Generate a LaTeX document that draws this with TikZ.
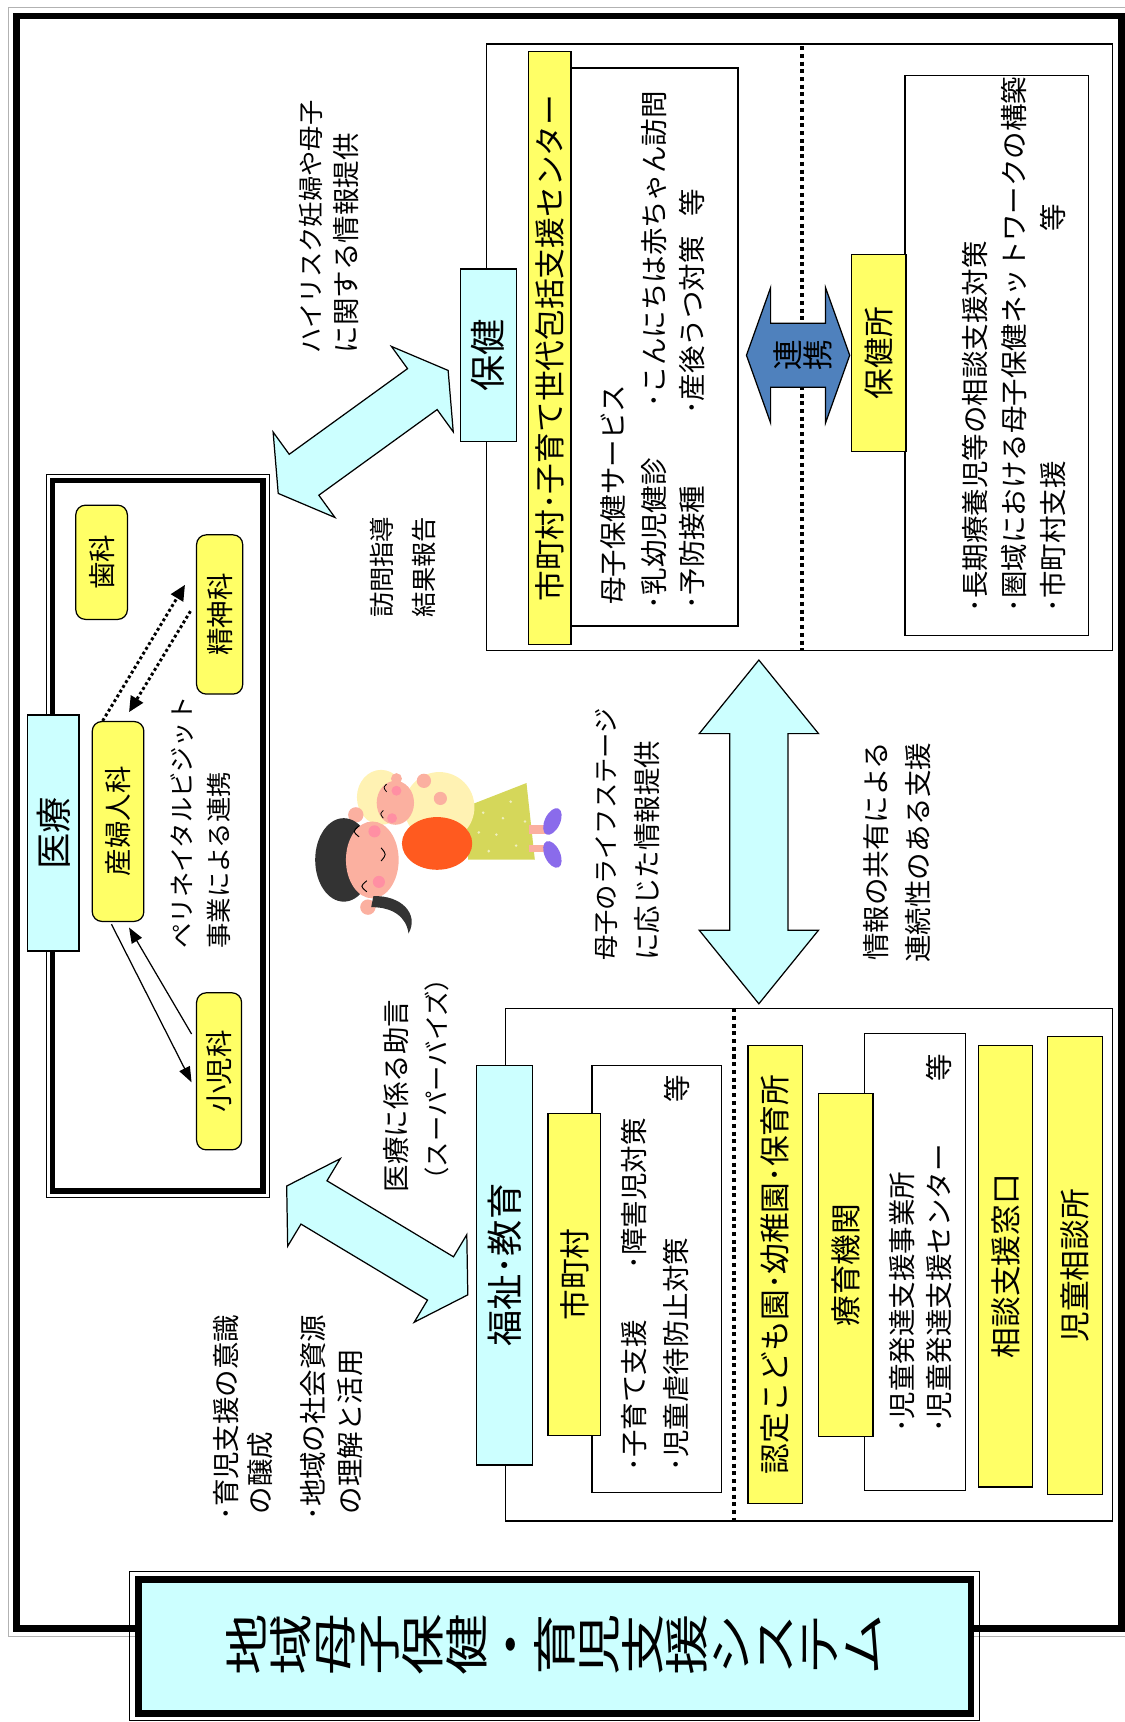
\documentclass[tikz,border=0pt]{standalone}
\usepackage{graphicx}
\usepackage{fontspec}
\setmainfont{Noto Sans CJK JP}
\usetikzlibrary{fit,calc,arrows.meta}

\definecolor{paleyellow}{HTML}{FFFF66}
\definecolor{palecyan}{HTML}{CCFFFF}
\definecolor{linkblue}{HTML}{4F81BD}
\definecolor{hairgray}{HTML}{333333}
\definecolor{skin}{HTML}{FBB0A0}
\definecolor{cheek}{HTML}{FF8FA3}
\definecolor{cream}{HTML}{FFF2B3}
\definecolor{apron}{HTML}{FF5A1F}
\definecolor{skirt}{HTML}{D5D75A}
\definecolor{shoe}{HTML}{8A6BEB}

% glyphs set one after another, each turned on its side
\newcommand\tatechars[1]{\ifx\relax#1\else\rotatebox{90}{\rule[-0.12em]{0pt}{1em}#1}\expandafter\tatechars\fi}

% double block arrow: centre, angle, half length, head length, half head width, half shaft width
\newcommand{\dblarrow}[7][bigarrow]{%
  \begin{scope}[shift={#2},rotate=#3]
    \draw[#1] (-#4,0) -- (-#4+#5,#6) -- (-#4+#5,#7) -- (#4-#5,#7) -- (#4-#5,#6)
      -- (#4,0) -- (#4-#5,-#6) -- (#4-#5,-#7) -- (-#4+#5,-#7) -- (-#4+#5,-#6) -- cycle;
  \end{scope}}

\begin{document}
\begin{tikzpicture}[x=0.25mm,y=-0.25mm,
  box/.style={draw,line width=0.8pt,inner sep=0pt},
  ybox/.style={box,fill=paleyellow},
  cbox/.style={box,fill=palecyan},
  wbox/.style={box,fill=white},
  dept/.style={ybox,rounded corners=2.2mm},
  vt/.style={rotate=90,anchor=west,inner sep=0pt},
  vc/.style={rotate=90,inner sep=0pt},
  fbig/.style={font=\fontsize{23.5pt}{28pt}\selectfont},
  fbar/.style={font=\fontsize{19.9pt}{24pt}\selectfont},
  fbody/.style={font=\fontsize{17.8pt}{21pt}\selectfont},
  fsmall/.style={font=\fontsize{16.4pt}{20pt}\selectfont},
  divider/.style={line width=2.6pt,dash pattern=on 2.6pt off 2.4pt},
  bigarrow/.style={draw,line width=0.8pt,fill=palecyan,line join=miter},
  linkarrow/.style={draw,line width=0.8pt,fill=linkblue,line join=miter},
  dotlink/.style={line width=1.9pt,dash pattern=on 1.9pt off 1.7pt,-{Triangle[length=10pt,width=9pt]}},
  link/.style={line width=0.8pt,-{Triangle[length=10pt,width=7.5pt]}},
]
\useasboundingbox (0,0) rectangle (1024,1568);

\draw[gray!60,line width=0.5pt] (8,7) rectangle (1030,1490);
\draw[line width=4.3pt] (15,14.5) rectangle (1021,1483);

% hoken
\node[wbox,fit={(443,40) (1013,592)}] (hoken) {};
\draw[divider] (730,42) -- (730,592);
\node[wbox,fit={(520,62) (672,570)}] (svc) {};
\node[ybox,fit={(481,47) (520,587)}] (sctr) {};
\node[vc,fbar] (sctr-t) at (sctr) {市町村･子育て世代包括支援センター};
\node[cbox,fit={(419,245) (470,402)}] (hk) {};
\node[vc,fbig] (hk-t) at (hk) {保健};
\node[vt,fbody] (svc-1) at (558,551) {母子保健サービス};
\node[vt,fbody] (svc-2) at (596,555) {･乳幼児健診};
\node[vt,fbody] (svc-3) at (596,371) {･こんにちは赤ちゃん訪問};
\node[vt,fbody] (svc-4) at (630,555) {･予防接種};
\node[vt,fbody] (svc-5) at (630,378) {･産後うつ対策};
\node[vc,fbody] (svc-6) at (630,185) {等};
\node[wbox,fit={(824,69) (991,579)}] (pref) {};
\node[ybox,fit={(775,232) (825,411)}] (hc) {};
\node[vc,fbar] (hc-t) at (hc) {保健所};
\node[vt,fbody] (pref-1) at (888,558) {･長期療養児等の相談支援対策};
\node[vt,fbody] (pref-2) at (923,558) {･圏域における母子保健ネットワークの構築};
\node[vt,fbody] (pref-3) at (959,558) {･市町村支援};
\node[vc,fbody] (pref-4) at (959,198) {等};
\dblarrow[linkarrow]{(726.7,323.5)}{0}{47}{22}{61.6}{29.2}
\node[fbar,inner sep=0pt] (renkei) at (731,323) {\tatechars 連携\relax};

% iryo
\draw[line width=0.5pt] (42,432) rectangle (245,1090);
\node[draw,line width=3.4pt,inner sep=0pt,fit={(47.5,437.5) (239.5,1084.5)}] (iryo) {};
\node[cbox,fit={(25,651) (72,866)}] (ir) {};
\node[vc,fbig] (ir-t) at (ir) {医療};
\node[dept,fit={(69,460) (116,564)}] (dent) {};
\node[vc,fbody] (dent-t) at (dent) {歯科};
\node[dept,fit={(179,487) (221,632)}] (psych) {};
\node[vc,fbody] (psych-t) at (psych) {精神科};
\node[dept,fit={(84,657) (131,839)}] (obgyn) {};
\node[vc,fbody] (obgyn-t) at (obgyn) {産婦人科};
\node[dept,fit={(179,904) (220,1047)}] (peds) {};
\node[vc,fbody] (peds-t) at (peds) {小児科};
\draw[dotlink] ($(obgyn.north west)+(10,0)$) -- ($(psych.west)+(-10,-27)$);
\draw[dotlink] ($(psych.west)+(-5,-3)$) -- ($(obgyn.north)+(10,-8)$);
\draw[link] ($(obgyn.south)+(-6,2)$) -- ($(peds.west)+(-4,10)$);
\draw[link] ($(peds.west)+(-4,-34)$) -- ($(obgyn.south)+(10,5)$);
\node[vt,fsmall] (peri-1) at (166,864) {ペリネイタルビジット};
\node[vt,fsmall] (peri-2) at (199,864) {事業による連携};

% arrows between the fields
\dblarrow{(330.7,393.3)}{35.9}{95.5}{29}{48}{23}
\dblarrow{(343.5,1129.5)}{-31}{96.2}{29}{46.5}{23}
\dblarrow{(691,757.5)}{90}{156.5}{67}{54.3}{26.5}

\node[vt,fsmall] (note-1) at (283,322) {ハイリスク妊婦や母子};
\node[vt,fbody] (note-2) at (315,322) {に関する情報提供};
\node[vt,fsmall] (note-3) at (348,563) {訪問指導};
\node[vt,fsmall] (note-4) at (386,563) {結果報告};
\node[vt,fsmall] (note-5) at (552,875) {母子のライフステージ};
\node[vt,fbody] (note-6) at (589,875) {に応じた情報提供};
\node[vt,fbody] (note-7) at (798,875) {情報の共有による};
\node[vt,fbody] (note-8) at (836,877) {連続性のある支援};
\node[vt,fbody] (note-9) at (361,1086) {医療に係る助言};
\node[vt,fsmall] (note-10) at (398,1086) {（スーパーバイズ）};
\node[vt,fbody] (note-11) at (206,1385) {･育児支援の意識};
\node[vt,fbody] (note-12) at (237,1379) {の醸成};
\node[vt,fbody] (note-13) at (285,1385) {･地域の社会資源};
\node[vt,fbody] (note-14) at (319,1379) {の理解と活用};

% mother and baby
\fill[skirt] (424.8,734.3) -- (479.4,713) -- (487,782.8) -- (426.3,782.8) -- cycle;
\foreach \p in {(440,740),(452,760),(465,730),(470,770),(445,775),(478,748),(458,745),(436,758)}
  \fill[skirt!40!white] \p circle (1.3);
\fill[skin] (482,751) rectangle (497,759);
\fill[skin] (482,769) rectangle (497,776);
\fill[shoe,rotate around={-25:(503,748)}] (503,748) ellipse (7 and 13);
\fill[shoe,rotate around={25:(503,778)}] (503,778) ellipse (7 and 13);
\fill[cream] (400,735) ellipse (32 and 32);
\fill[apron] (398,768) ellipse (32 and 24);
\fill[cream] (347,726) ellipse (22 and 25);
\fill[skin] (360,731) ellipse (17 and 20);
\fill[skin] (361,709) circle (5);
\fill[cheek] (361,720) circle (4.5);
\fill[cheek] (357,745) circle (4.5);
\fill[skin] (386,711) circle (6.5);
\fill[skin] (401,727) circle (6);
\draw[line width=0.5pt] (352,714) .. controls (349,717) .. (352,721);
\draw[line width=0.5pt] (349,738) .. controls (346,741) .. (349,745);
\fill[skin] (324,742) circle (7);
\fill[skin] (335,826) circle (7);
\fill[hairgray] (313,783) ellipse (26 and 38);
\fill[skin] (339,783) ellipse (24 and 35);
\fill[hairgray] (340,816) .. controls (365,815) and (382,832) .. (372,850)
  .. controls (370,835) and (358,826) .. (338,826) -- cycle;
\fill[cheek] (341,757) circle (5.5);
\fill[cheek] (345,803) circle (5.5);
\draw[line width=0.6pt] (327,752) .. controls (321,757) .. (327,762);
\draw[line width=0.6pt] (334,802) .. controls (328,807) .. (334,812);
\draw[line width=0.6pt] (347,772) .. controls (352,778) .. (347,784);

% fukushi / kyoiku
\node[wbox,fit={(460,918) (1013,1385)}] (fukushi) {};
\draw[divider] (668,918) -- (668,1387);
\node[wbox,fit={(539,970) (657,1359)}] (muni) {};
\node[cbox,fit={(434,970) (485,1334)}] (fk) {};
\node[vc,fbig] (fk-t) at (fk) {福祉･教育};
\node[ybox,fit={(499,1014) (547,1307)}] (mc) {};
\node[vc,fbar] (mc-t) at (mc) {市町村};
\node[vt,fbody] (muni-1) at (577,1340) {･子育て支援};
\node[vt,fbody] (muni-2) at (577,1156) {･障害児対策};
\node[vt,fbody] (muni-3) at (616,1340) {･児童虐待防止対策};
\node[vc,fbody] (muni-4) at (616,991) {等};
\node[ybox,fit={(681,952) (731,1369)}] (kg) {};
\node[vc,fbar] (kg-t) at (kg) {認定こども園･幼稚園･保育所};
\node[wbox,fit={(787,941) (879,1357)}] (rc) {};
\node[ybox,fit={(745,996) (795,1308)}] (ry) {};
\node[vc,fbar] (ry-t) at (ry) {療育機関};
\node[vt,fbody] (rc-1) at (821,1305) {･児童発達支援事業所};
\node[vt,fbody] (rc-2) at (855,1305) {･児童発達支援センター};
\node[vc,fbody] (rc-3) at (855,972) {等};
\node[ybox,fit={(891,952) (940,1354)}] (sd) {};
\node[vc,fbar] (sd-t) at (sd) {相談支援窓口};
\node[ybox,fit={(954,944) (1004,1361)}] (jc) {};
\node[vc,fbar] (jc-t) at (jc) {児童相談所};

% title
\draw[line width=0.5pt] (118,1431) rectangle (892,1566.5);
\node[draw,line width=4.3pt,fill=palecyan,inner sep=0pt,fit={(126,1438) (884,1560)}] (title) {};
\node[font=\fontsize{28.5pt}{32pt}\selectfont,inner sep=0pt] (title-t) at (505,1498)
  {\scalebox{1}[1.4]{\tatechars 地域母子保健・育児支援システム\relax}};
\end{tikzpicture}
\end{document}
